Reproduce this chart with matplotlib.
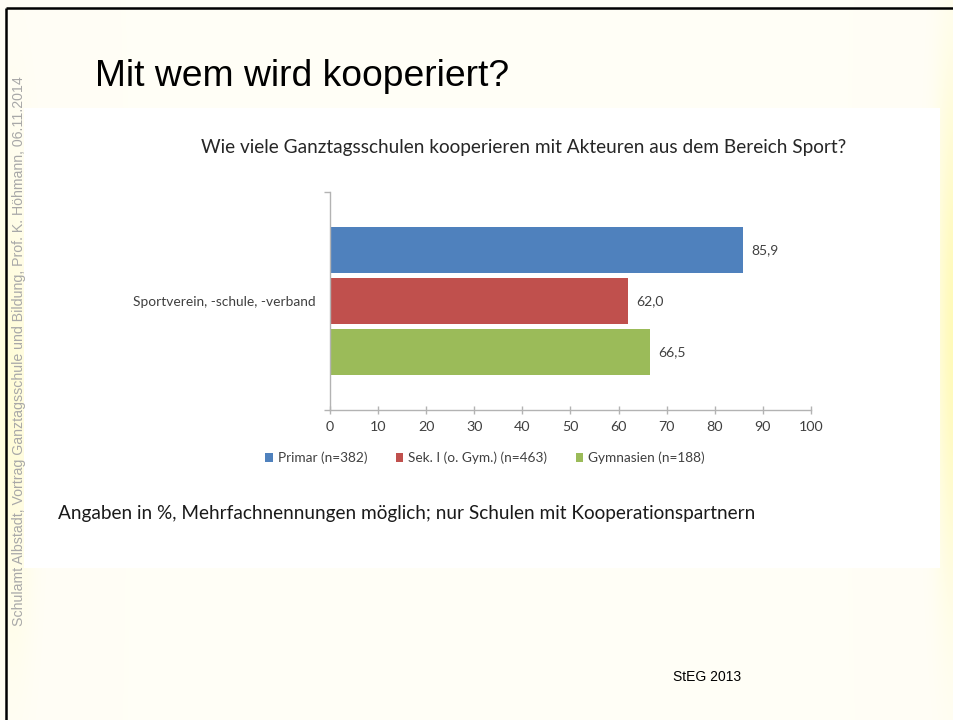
import numpy as np
import matplotlib.pyplot as plt
from matplotlib.patches import Rectangle

# -------------------------------
# DATA
# -------------------------------
category = "Sportverein, -schule, -verband"
groups = ["Primar (n=382)", "Sek. I (o. Gym.) (n=463)", "Gymnasien (n=188)"]
values = [85.9, 62.0, 66.5]
x_ticks = [0, 10, 20, 30, 40, 50, 60, 70, 80, 90, 100]

colors = ["#4F81BD", "#C0504D", "#9BBB59"]
offsets = [0.466, 0.0, -0.466]   # blue on top, green at the bottom
bar_h = 0.417

W, H = 954, 720
TEXT = "#404040"
SANS = "Lato"
SLIDE = "Liberation Sans"

fig = plt.figure(figsize=(W / 100, H / 100), dpi=100)

# -------------------------------
# SLIDE BACKGROUND (pixel coords)
# -------------------------------
bg = fig.add_axes([0, 0, 1, 1])
bg.set_xlim(0, W)
bg.set_ylim(H, 0)
bg.axis("off")

xx, yy = np.meshgrid(np.arange(W), np.arange(H))
glow_r = np.exp(-((W - xx) / 18.0) ** 2) * np.exp(-((yy - 330) / 240.0) ** 2)
glow_l = 0.5 * np.exp(-((xx - 12) / 20.0) ** 2) * np.exp(-((yy - 400) / 220.0) ** 2)
glow = np.clip(glow_r + glow_l, 0, 1)
base = np.array([255, 254, 246]) / 255
yellow = np.array([255, 250, 185]) / 255
img = base + glow[..., None] * (yellow - base)
bg.imshow(img, extent=(0, W, H, 0), aspect="auto", zorder=0)

# white panel behind the chart
bg.add_patch(Rectangle((24, 108), 916, 460, facecolor="white", edgecolor="none", zorder=1))

# slide frame
bg.plot([6, 6], [8, H], color="black", lw=1.8, zorder=3, solid_capstyle="butt")
bg.plot([6, W], [8, 8], color="black", lw=1.8, zorder=3, solid_capstyle="butt")

bg.text(95, 86, "Mit wem wird kooperiert?", fontsize=26.8, family=SLIDE,
        color="black", va="baseline", zorder=4)
bg.text(19, 351, "Schulamt Albstadt, Vortrag Ganztagsschule und Bildung, Prof. K. Höhmann, 06.11.2014",
        rotation=90, fontsize=10.2, family=SLIDE, color="#a8a8a8",
        ha="center", va="center", zorder=4)
bg.text(524, 147, "Wie viele Ganztagsschulen kooperieren mit Akteuren aus dem Bereich Sport?",
        fontsize=13.7, family=SANS, color="#262626", ha="center", va="center", zorder=4)
bg.text(58, 513, "Angaben in %, Mehrfachnennungen möglich; nur Schulen mit Kooperationspartnern",
        fontsize=13.7, family=SANS, color="#1a1a1a", ha="left", va="center", zorder=4)
bg.text(707, 677, "StEG 2013", fontsize=10, family=SLIDE, color="black",
        ha="center", va="center", zorder=4)

# -------------------------------
# BAR CHART
# -------------------------------
ax = fig.add_axes([330 / W, 1 - 410 / H, 481 / W, 218 / H])
ax.set_zorder(5)
ax.patch.set_alpha(0)

bars = []
for name, v, off, c in zip(groups, values, offsets, colors):
    b = ax.barh([off], [v], height=bar_h, color=c, edgecolor="none", label=name)
    ax.bar_label(b, fmt=lambda x: f"{x:.1f}".replace(".", ","), padding=6,
                 fontsize=10, color=TEXT, family=SANS)
    bars.append(b)

ax.set_xlim(0, 100)
ax.set_ylim(-1, 1)
ax.set_xticks(x_ticks)
ax.set_yticks([0])
ax.set_yticklabels([category], family=SANS, fontsize=9.95, color=TEXT)
ax.set_yticks([-1, 1], minor=True)

for s in ["top", "right"]:
    ax.spines[s].set_visible(False)
for s in ["left", "bottom"]:
    ax.spines[s].set_color("#b3b3b3")
    ax.spines[s].set_linewidth(1.0)

ax.tick_params(axis="x", direction="inout", length=6, width=1, color="#b3b3b3",
               labelsize=10.3, labelcolor=TEXT, pad=5)
ax.tick_params(axis="y", which="major", length=0, pad=10)
ax.tick_params(axis="y", which="minor", direction="out", length=4, width=1, color="#b3b3b3")
for lbl in ax.get_xticklabels():
    lbl.set_family(SANS)

fig.legend(handles=bars, labels=groups, loc="center", bbox_to_anchor=(485 / W, 1 - 458 / H),
           ncol=3, frameon=False, prop={"family": SANS, "size": 9.8},
           handlelength=0.55, handleheight=0.55, handletextpad=0.35,
           columnspacing=2.1, labelcolor=TEXT)

fig.savefig("out.png", dpi=100)
